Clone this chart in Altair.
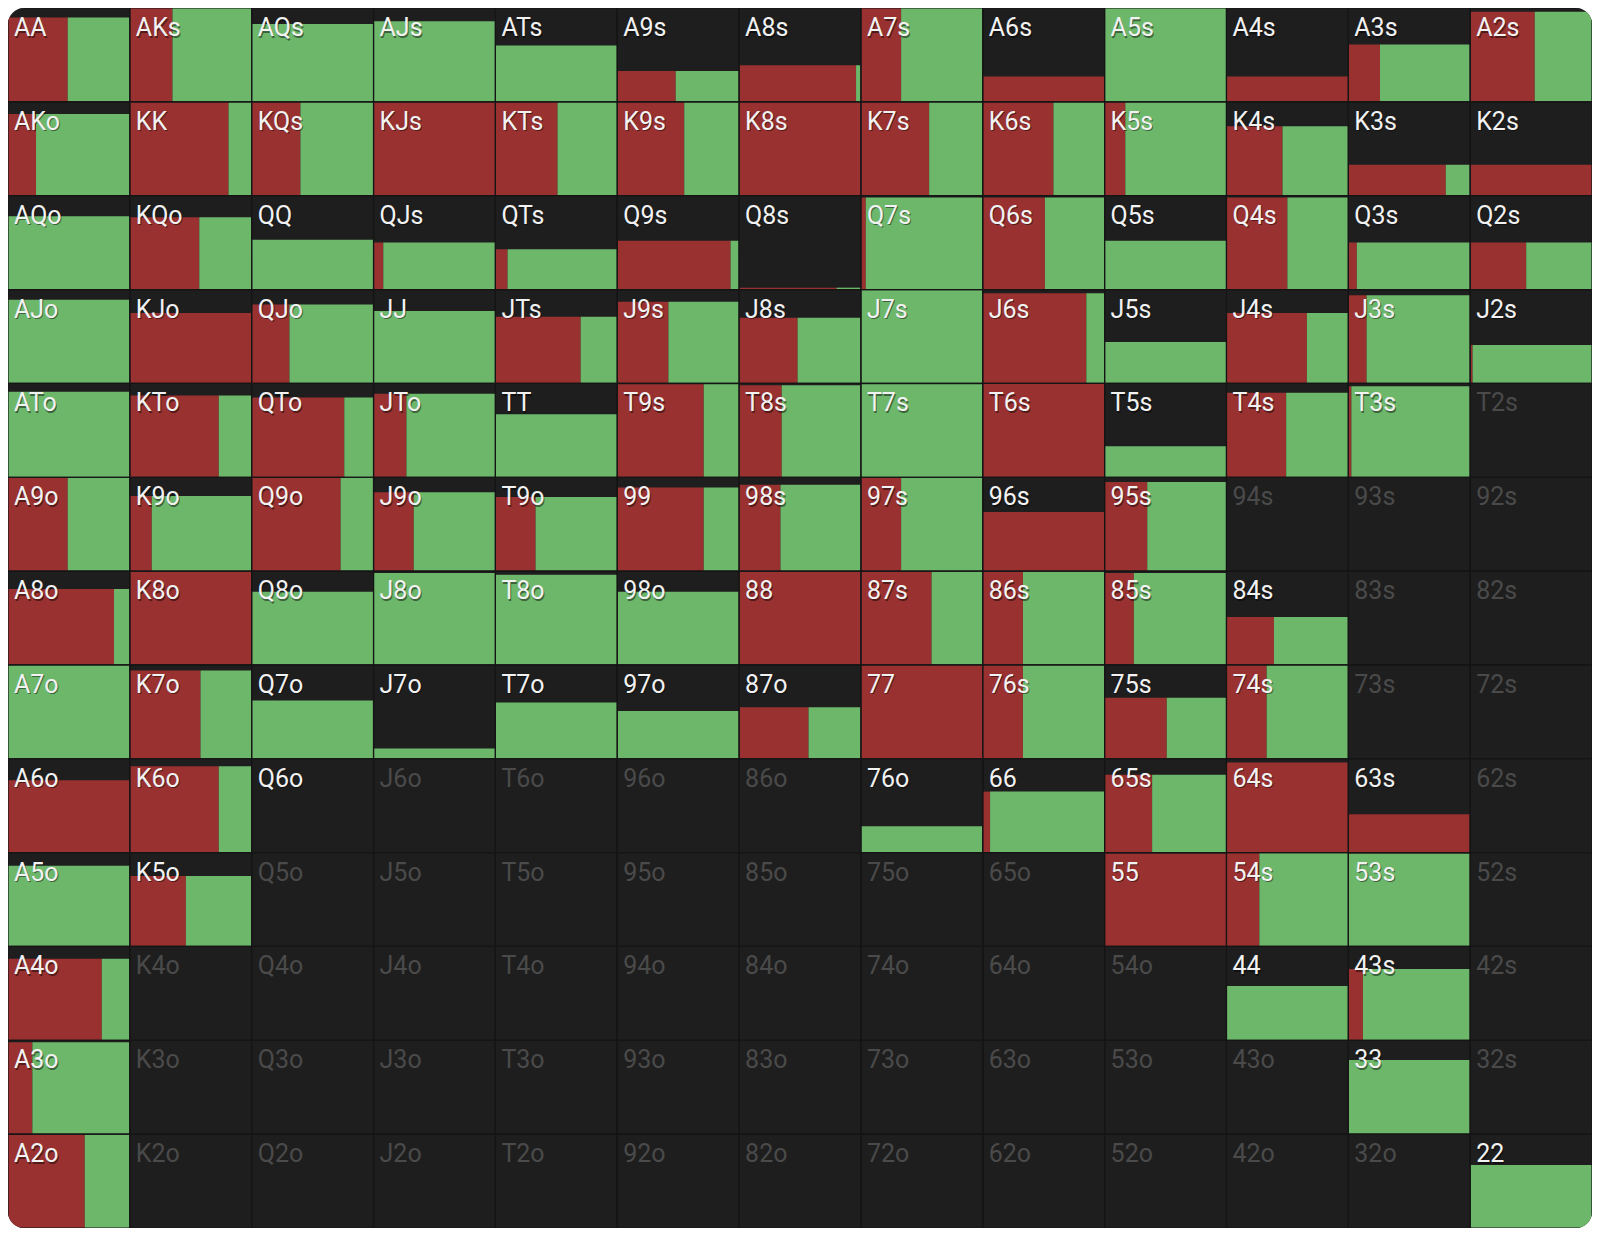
import altair as alt
import pandas as pd

RANKS = list("AKQJT98765432")

# share of the cell that is filled (height), per row of the grid
FREQ = [
    [0.90, 1.00, 0.83, 0.86, 0.60, 0.33, 0.39, 1.00, 0.27, 1.00, 0.27, 0.61, 0.96],
    [0.87, 1.00, 1.00, 1.00, 1.00, 1.00, 1.00, 1.00, 1.00, 1.00, 0.74, 0.33, 0.33],
    [0.78, 0.77, 0.53, 0.50, 0.43, 0.52, 0.02, 0.98, 0.98, 0.52, 0.98, 0.50, 0.50],
    [0.89, 0.75, 0.84, 0.77, 0.71, 0.87, 0.70, 1.00, 0.96, 0.44, 0.75, 0.94, 0.41],
    [0.91, 0.87, 0.85, 0.89, 0.67, 0.99, 0.98, 0.99, 1.00, 0.33, 0.90, 0.97, 0.00],
    [1.00, 0.80, 1.00, 0.84, 0.79, 0.89, 0.92, 1.00, 0.63, 0.95, 0.00, 0.00, 0.00],
    [0.81, 1.00, 0.78, 0.98, 0.96, 0.78, 1.00, 1.00, 1.00, 0.98, 0.51, 0.00, 0.00],
    [1.00, 0.94, 0.62, 0.11, 0.60, 0.51, 0.55, 1.00, 1.00, 0.65, 1.00, 0.00, 0.00],
    [0.77, 0.92, 0.005, 0.00, 0.00, 0.00, 0.00, 0.28, 0.65, 0.83, 0.96, 0.41, 0.00],
    [0.86, 0.75, 0.00, 0.00, 0.00, 0.00, 0.00, 0.00, 0.00, 0.99, 1.00, 0.99, 0.00],
    [0.87, 0.00, 0.00, 0.00, 0.00, 0.00, 0.00, 0.00, 0.00, 0.00, 0.58, 0.76, 0.00],
    [0.98, 0.00, 0.00, 0.00, 0.00, 0.00, 0.00, 0.00, 0.00, 0.00, 0.00, 0.79, 0.00],
    [1.00, 0.00, 0.00, 0.00, 0.00, 0.00, 0.00, 0.00, 0.00, 0.00, 0.00, 0.00, 0.67],
]

# share of the filled part that is red (left side); the rest is green
RED = [
    [0.49, 0.35, 0.00, 0.00, 0.00, 0.48, 0.96, 0.33, 1.00, 0.00, 1.00, 0.26, 0.53],
    [0.23, 0.81, 0.40, 1.00, 0.51, 0.55, 1.00, 0.56, 0.58, 0.17, 0.46, 0.80, 1.00],
    [0.00, 0.57, 0.00, 0.08, 0.10, 0.93, 0.80, 0.04, 0.51, 0.00, 0.50, 0.07, 0.46],
    [0.00, 1.00, 0.31, 0.00, 0.70, 0.42, 0.48, 0.00, 0.85, 0.00, 0.66, 0.15, 0.02],
    [0.00, 0.73, 0.76, 0.27, 0.00, 0.71, 0.35, 0.00, 1.00, 0.00, 0.49, 0.025, 0.00],
    [0.49, 0.18, 0.73, 0.33, 0.33, 0.71, 0.34, 0.33, 1.00, 0.35, 0.00, 0.00, 0.00],
    [0.87, 1.00, 0.00, 0.00, 0.00, 0.00, 1.00, 0.58, 0.33, 0.24, 0.39, 0.00, 0.00],
    [0.00, 0.58, 0.00, 0.00, 0.00, 0.00, 0.57, 1.00, 0.33, 0.51, 0.33, 0.00, 0.00],
    [1.00, 0.73, 0.00, 0.00, 0.00, 0.00, 0.00, 0.00, 0.06, 0.39, 1.00, 1.00, 0.00],
    [0.00, 0.46, 0.00, 0.00, 0.00, 0.00, 0.00, 0.00, 0.00, 1.00, 0.27, 0.00, 0.00],
    [0.77, 0.00, 0.00, 0.00, 0.00, 0.00, 0.00, 0.00, 0.00, 0.00, 0.00, 0.12, 0.00],
    [0.20, 0.00, 0.00, 0.00, 0.00, 0.00, 0.00, 0.00, 0.00, 0.00, 0.00, 0.00, 0.00],
    [0.63, 0.00, 0.00, 0.00, 0.00, 0.00, 0.00, 0.00, 0.00, 0.00, 0.00, 0.00, 0.00],
]

RED_C = "#993130"
GREEN_C = "#6db76b"
BG_C = "#1e1e1e"
LINE_C = "#151515"
TXT_ON = "#f2f2f2"
TXT_OFF = "#4a4a4a"

records = []
for i in range(13):
    for j in range(13):
        if i == j:
            lab = RANKS[i] * 2
        elif j > i:
            lab = RANKS[i] + RANKS[j] + "s"
        else:
            lab = RANKS[j] + RANKS[i] + "o"
        records.append(dict(label=lab, col=j, row=i, freq=FREQ[i][j], red=RED[i][j]))
df = pd.DataFrame(records)

xs = alt.Scale(domain=[0, 13], nice=False, zero=False)
ys = alt.Scale(domain=[0, 13], nice=False, zero=False, reverse=True)

base = alt.Chart(df).transform_calculate(
    x0="datum.col",
    x1="datum.col + 1",
    xr="datum.col + datum.red",
    y0="datum.row",
    y1="datum.row + 1",
    ytop="datum.row + 1 - datum.freq",
    tcol=f"datum.freq > 0 ? '{TXT_ON}' : '{TXT_OFF}'",
)

red = base.transform_filter("datum.freq > 0 && datum.red > 0").mark_rect(
    color=RED_C, clip=True
).encode(
    x=alt.X("x0:Q", scale=xs, axis=None),
    x2="xr:Q",
    y=alt.Y("ytop:Q", scale=ys, axis=None),
    y2="y1:Q",
)

green = base.transform_filter("datum.freq > 0 && datum.red < 1").mark_rect(
    color=GREEN_C, clip=True
).encode(
    x=alt.X("xr:Q", scale=xs, axis=None),
    x2="x1:Q",
    y=alt.Y("ytop:Q", scale=ys, axis=None),
    y2="y1:Q",
)

grid = base.mark_rect(
    fillOpacity=0, stroke=LINE_C, strokeWidth=1.2, clip=True
).encode(
    x=alt.X("x0:Q", scale=xs, axis=None),
    x2="x1:Q",
    y=alt.Y("y0:Q", scale=ys, axis=None),
    y2="y1:Q",
)

shadow = base.transform_filter("datum.freq > 0").mark_text(
    align="left", baseline="alphabetic", dx=7, dy=29.5,
    fontSize=25, font="Roboto", color="#000000", opacity=0.45,
).encode(
    x=alt.X("x0:Q", scale=xs, axis=None),
    y=alt.Y("y0:Q", scale=ys, axis=None),
    text="label:N",
)

labels = base.mark_text(
    align="left", baseline="alphabetic", dx=6, dy=28,
    fontSize=25, font="Roboto",
).encode(
    x=alt.X("x0:Q", scale=xs, axis=None),
    y=alt.Y("y0:Q", scale=ys, axis=None),
    text="label:N",
    color=alt.Color("tcol:N", scale=None),
)

chart = alt.layer(red, green, grid, shadow, labels).properties(
    width=1584, height=1220, padding=0,
    autosize=alt.AutoSizeParams(type="none"),
    background="white",
).configure_view(
    fill=BG_C, cornerRadius=16, strokeWidth=0, stroke=None
)

chart.save("out.html", embed_options={"renderer": "svg", "actions": False})
